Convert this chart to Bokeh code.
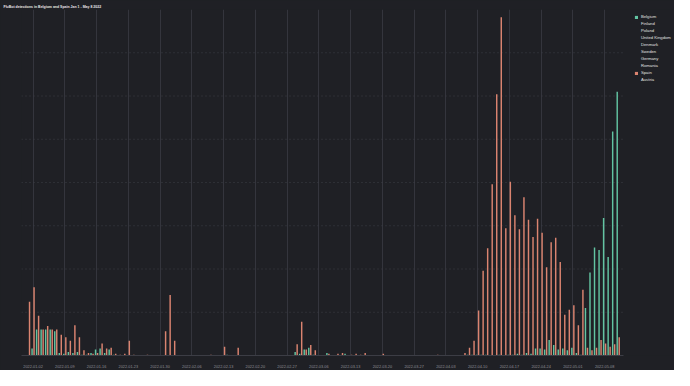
from bokeh.plotting import figure
from bokeh.models import (ColumnDataSource, FixedTicker, Legend, LegendItem, Range1d)
from bokeh.transform import dodge
from bokeh.embed import file_html
from bokeh.resources import INLINE
import pandas as pd

dates = pd.date_range("2022-01-01", "2022-05-11").strftime("%Y-%m-%d").tolist()

spain = [62, 79, 46, 30, 34, 30, 30, 24, 21, 17,
         35, 21, 6, 3, 2, 3, 14, 8, 9, 2,
         1, 2, 17, 1, 0, 0, 1, 0, 0, 0,
         28, 70, 17, 0, 0, 0, 0, 0, 0, 0,
         1, 0, 0, 10, 0, 0, 9, 0, 0, 0,
         0, 0, 0, 0, 0, 0, 0, 0, 0, 13,
         39, 7, 12, 6, 0, 0, 2, 0, 2, 3,
         0, 1, 2, 1, 3, 0, 0, 0, 2, 0,
         0, 0, 0, 0, 0, 0, 0, 0, 0, 0,
         1, 0, 0, 0, 0, 0, 3, 9, 17, 52,
         98, 124, 198, 302, 391, 147, 201, 162, 146, 183,
         157, 137, 158, 142, 102, 131, 136, 108, 47, 53,
         58, 35, 76, 9, 6, 9, 18, 14, 10, 13, 21]

belgium = [0, 8, 30, 30, 30, 30, 28, 3, 2, 4,
           3, 4, 1, 1, 3, 7, 8, 3, 7, 1,
           0, 0, 0, 0, 0, 0, 0, 0, 0, 0,
           0, 0, 0, 0, 0, 0, 0, 0, 0, 0,
           0, 0, 0, 0, 1, 0, 0, 0, 0, 0,
           0, 0, 0, 0, 0, 0, 0, 0, 0, 4,
           2, 7, 9, 1, 0, 0, 3, 0, 0, 0,
           2, 0, 0, 0, 0, 0, 0, 0, 0, 0,
           0, 0, 0, 0, 0, 0, 0, 0, 0, 0,
           0, 0, 0, 0, 0, 0, 0, 1, 1, 1,
           1, 1, 0, 0, 1, 0, 1, 1, 2, 1,
           3, 2, 8, 8, 7, 18, 12, 7, 8, 6,
           9, 3, 1, 55, 96, 125, 122, 159, 114, 259, 305]

countries = ["Belgium", "Finland", "Poland", "United Kingdom", "Denmark",
             "Sweden", "Germany", "Romania", "Spain", "Austria"]
tick_labels = ["2022-01-02", "2022-01-09", "2022-01-16", "2022-01-23", "2022-01-30",
               "2022-02-06", "2022-02-13", "2022-02-20", "2022-02-27", "2022-03-06",
               "2022-03-13", "2022-03-20", "2022-03-27", "2022-04-03", "2022-04-10",
               "2022-04-17", "2022-04-24", "2022-05-01", "2022-05-08"]
y_grid_levels = [50, 100, 150, 200, 250, 300, 350]

BG = "#1f2025"
X0, X1 = -1.55, 131.16          # extent of the plotting area in days
day = list(range(len(dates)))
tick_pos = [dates.index(t) for t in tick_labels]

src = ColumnDataSource(dict(day=day, date=dates, spain=spain, belgium=belgium))

p = figure(width=674, height=370, output_backend="svg", toolbar_location=None,
           x_range=Range1d(X0, 142.41), y_range=Range1d(0, 400),
           min_border_left=21, min_border_right=0, min_border_top=9,
           min_border_bottom=13)
p.background_fill_color = None
p.border_fill_color = BG
p.outline_line_color = None
p.styles = {"background-color": BG}

p.title.text = "FluBot detections in Belgium and Spain Jan 1 - May 8 2022"
p.title.text_color = "#e8e8e8"
p.title.text_font = "Liberation Sans"
p.title.text_font_size = "3.5px"
p.title.text_font_style = "bold"
p.title.offset = -18
p.title.standoff = 2

# horizontal dotted guide lines, limited to the plotting area (not under legend)
p.segment(x0=X0, x1=X1, y0=y_grid_levels, y1=y_grid_levels,
          line_color="#3d3e47", line_width=1, line_dash="1 3")

rb = p.vbar(x=dodge("day", -0.22), top="belgium", width=0.32, source=src,
            fill_color="#62c4a2", line_color=None)
rs = p.vbar(x=dodge("day", 0.22), top="spain", width=0.32, source=src,
            fill_color="#db8470", line_color=None)

items = []
for c in countries:
    if c == "Belgium":
        r = rb
    elif c == "Spain":
        r = rs
    else:
        r = p.vbar(x="x", top="top", width=0.32,
                   source=ColumnDataSource(dict(x=[], top=[])),
                   fill_color="#4a4b52", line_color="#7a7b82", visible=False)
    items.append(LegendItem(label=c, renderers=[r]))

leg = Legend(items=items, location=(613, 273), orientation="vertical",
             label_text_font="Liberation Sans", label_text_font_size="4.2px",
             label_text_color="#e0e0e0", label_height=5, label_standoff=3,
             glyph_height=4, glyph_width=4, spacing=2, padding=0, margin=0,
             border_line_color=None, background_fill_alpha=0,
             inactive_fill_color=BG, inactive_fill_alpha=0.45)
p.add_layout(leg)

p.yaxis.visible = False
p.xaxis.bounds = (X0, X1)
p.xaxis.ticker = FixedTicker(ticks=tick_pos)
p.xaxis.major_label_overrides = {pos: lab for pos, lab in zip(tick_pos, tick_labels)}
p.xaxis.major_label_text_font = "Liberation Sans"
p.xaxis.major_label_text_font_size = "3.8px"
p.xaxis.major_label_text_color = "#8e8f96"
p.xaxis.major_label_standoff = 3
p.xaxis.major_tick_line_color = None
p.xaxis.minor_tick_line_color = None
p.xaxis.axis_line_color = "#3c3d45"

p.xgrid.ticker = FixedTicker(ticks=tick_pos)
p.xgrid.grid_line_color = "#34353d"
p.xgrid.grid_line_width = 1
p.ygrid.visible = False

open("out.html", "w").write(file_html(p, INLINE))
